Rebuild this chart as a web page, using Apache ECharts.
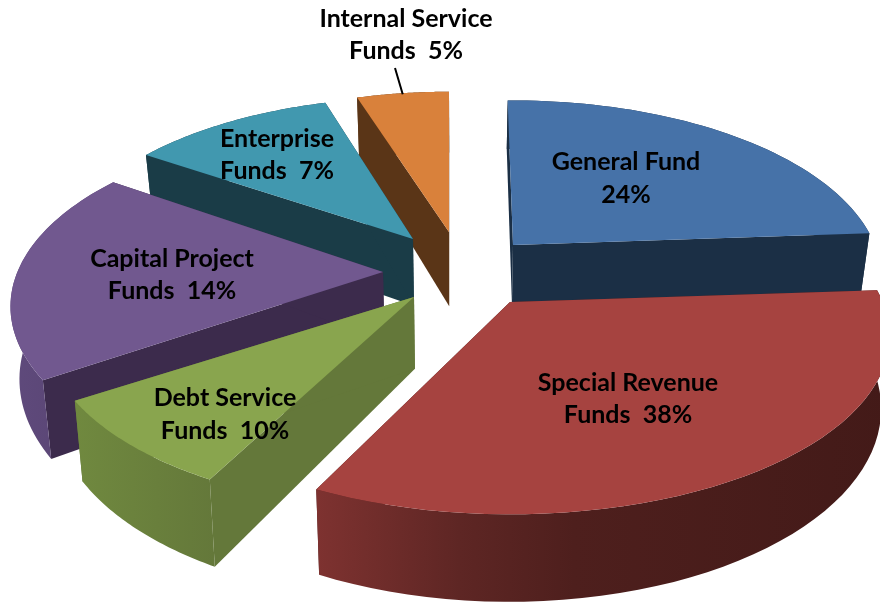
<!DOCTYPE html>
<html>
<head>
<meta charset="utf-8">
<style>html,body{margin:0;padding:0;background:#fff}#c{width:880px;height:603px}</style>
<script src="https://cdn.jsdelivr.net/npm/echarts@6/dist/echarts.min.js"></script>
</head>
<body>
<div id="c"></div>
<script>
// ---- data ----
const categories = ["General Fund","Special Revenue Funds","Debt Service Funds","Capital Project Funds","Enterprise Funds","Internal Service Funds"];
const values = [24,38,10,14,7,5];
const labelFirstLines = ["General Fund","Special Revenue","Debt Service","Capital Project","Enterprise","Internal Service"];
const labelSecondLines = ["24%","Funds  38%","Funds  10%","Funds  14%","Funds  7%","Funds  5%"];

// ---- view / styling of the 3D exploded pie ----
const centre = [460,270];
const firstAngleDeg = -1;
const explodePx = [[53,-25],[50,32],[-46,27],[-77,2],[-47,-31],[-11,-38]];
const sweepWarpDeg = [0.6,-15.3,-6.3,17.4,12.8,-1];   // the picture's 3D view stretches some sweeps
const startNudgeDeg = [0,0,0.5,-1,-1.5,-1];
const endNudgeDeg = [0,-2,0,0,0,0];
const radiusScale = [1,1,1,1.01,0.975,0.965];
const widthScale = [1,1.03,1,1,1,1];
const thickness = [0.88,0.97,1,1,1,1.12];
const paintRank = [1,5,4,3,2,0];
const labelAt = [[626,162,195],[628,383,415],[225,398,431],[172,259,291],[277,139,171],[406,19,51]];
const topColors = ["#4672a8","#a64340","#89a54e","#71588f","#4198af","#d9813b"];
const cutColors = ["#1b2f45","#4a1d1b","#64783a","#3c2b4c","#1a3c47","#5a3517"];
const wallStops = [
  [[0,"#1b2f45"],[1,"#1b2f45"]],
  [[0,"#7e3230"],[0.25,"#5e2624"],[0.45,"#4e1f1d"],[1,"#431a18"]],
  [[0,"#70893f"],[1,"#64783a"]],
  [[0,"#5f4a7c"],[1,"#56426f"]],
  [[0,"#1a3c47"],[1,"#1a3c47"]],
  [[0,"#5a3517"],[1,"#5a3517"]]
];
const RX = 362, RY = 172, K = 0.19;

function project(deg, apex, r, w) {
  const t = deg * Math.PI / 180, x = Math.sin(t) * r, y = Math.cos(t) * r, p = 1 / (1 + K * y);
  return [apex[0] + RX * w * x * p, apex[1] - RY * y * p];
}
function drop(pt, th) {
  const d = (55 + (pt[1] - 100) * 0.085) * th;
  return [pt[0] + (centre[0] - pt[0]) * 0.02, pt[1] + d];
}
function startAngle(i) {
  let a = firstAngleDeg;
  for (let j = 0; j < i; j++) a += values[j] * 3.6 + sweepWarpDeg[j];
  return a;
}

function renderItem(params, api) {
  const i = params.dataIndex;
  const base = startAngle(i);
  const a1 = base + api.value(0) * 3.6 + sweepWarpDeg[i] + endNudgeDeg[i];
  const a0 = base + startNudgeDeg[i];
  const apex = [centre[0] + explodePx[i][0], centre[1] + explodePx[i][1]];
  const arc = [];
  for (let s = 0; s <= 48; s++) arc.push(project(a0 + (a1 - a0) * s / 48, apex, radiusScale[i], widthScale[i]));
  const th = thickness[i], z = paintRank[i] * 10;
  const lowArc = arc.map(p => drop(p, th));
  const lowApex = drop(apex, th);
  const first = arc[0], last = arc[arc.length - 1];
  const children = [
    { type:'polygon', z2:z, shape:{points:[apex,first,lowArc[0],lowApex]}, style:{fill:cutColors[i]} },
    { type:'polygon', z2:z, shape:{points:[apex,last,lowArc[lowArc.length-1],lowApex]}, style:{fill:cutColors[i]} },
    { type:'polygon', z2:z+1, shape:{points:arc.concat(lowArc.slice().reverse())},
      style:{fill:{type:'linear',x:0,y:0,x2:1,y2:0,colorStops:wallStops[i].map(s=>({offset:s[0],color:s[1]}))}} },
    { type:'polygon', z2:z+2, shape:{points:[apex].concat(arc)}, style:{fill:topColors[i]} }
  ];
  const font = 'bold 25px Lato, "Open Sans", sans-serif';
  const la = labelAt[i];
  [labelFirstLines[i], labelSecondLines[i]].forEach((t, n) => {
    children.push({ type:'text', z2:200, style:{ text:t, x:la[0], y:la[n+1], align:'center', verticalAlign:'middle', font:font, fill:'#000' } });
  });
  if (i === values.length - 1) {
    const tip = arc[24];
    children.push({ type:'line', z2:200, shape:{x1:la[0]-11, y1:la[2]+17, x2:tip[0], y2:tip[1]+1}, style:{stroke:'#000', lineWidth:2} });
  }
  return { type:'group', children };
}

const chart = echarts.init(document.getElementById('c'), null, {renderer:'canvas'});
chart.setOption({
  animation:false,
  backgroundColor:'#fff',
  series:[{
    type:'custom',
    coordinateSystem:'none',
    renderItem,
    clip:false,
    data:categories.map((c,i)=>({name:c,value:[values[i]]}))
  }]
});
</script>
</body>
</html>
